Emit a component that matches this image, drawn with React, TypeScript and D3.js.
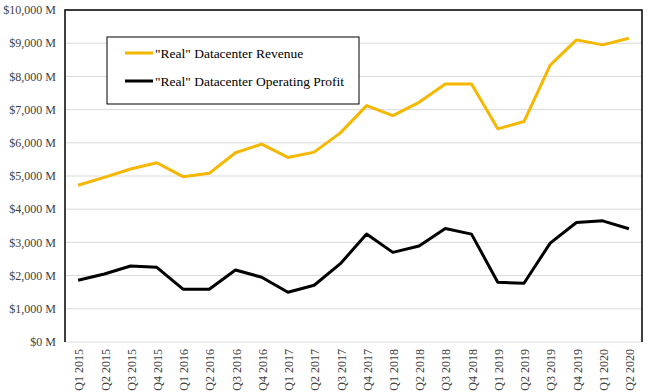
import React from 'react';
import * as d3 from 'd3';

const quarters = [
    'Q1 2015', 'Q2 2015', 'Q3 2015', 'Q4 2015',
    'Q1 2016', 'Q2 2016', 'Q3 2016', 'Q4 2016',
    'Q1 2017', 'Q2 2017', 'Q3 2017', 'Q4 2017',
    'Q1 2018', 'Q2 2018', 'Q3 2018', 'Q4 2018',
    'Q1 2019', 'Q2 2019', 'Q3 2019', 'Q4 2019',
    'Q1 2020', 'Q2 2020',
];

// $ millions
const revenue = [
    4720, 4960, 5210, 5400,
    4980, 5080, 5700, 5960,
    5560, 5720, 6300, 7120,
    6820, 7220, 7770, 7770,
    6420, 6640, 8340, 9100,
    8950, 9150,
];

const operatingProfit = [
    1860, 2050, 2290, 2250,
    1590, 1590, 2170, 1950,
    1500, 1710, 2360, 3250,
    2700, 2890, 3420, 3250,
    1800, 1770, 2980, 3600,
    3650, 3410,
];

const yTicks = d3.range(0, 10001, 1000);

const seriesNames = ['"Real" Datacenter Revenue', '"Real" Datacenter Operating Profit'];
const seriesColors = ['#F5B700', '#000000'];

const width = 651;
const height = 392;
const margin = { top: 10, right: 9, bottom: 50, left: 65 };
const font = '"Liberation Serif", "DejaVu Serif", serif';

const App = () => {
    const x = d3
        .scaleBand<string>()
        .domain(quarters)
        .range([margin.left, width - margin.right]);

    const y = d3
        .scaleLinear()
        .domain([0, 10000])
        .range([height - margin.bottom, margin.top]);

    const line = d3
        .line<number>()
        .x((_, i) => x(quarters[i])! + x.bandwidth() / 2)
        .y((d) => y(d));

    const fmt = (v: number) => '$' + d3.format(',')(v) + ' M';
    const series = [revenue, operatingProfit];

    return (
        <div style={{ position: 'absolute', left: 0, top: 0 }}>
            <svg width={width} height={height} style={{ display: 'block', background: '#fff' }}>
                {/* gridlines */}
                {yTicks.map((t) => (
                    <line
                        key={t}
                        x1={margin.left}
                        x2={width - margin.right}
                        y1={y(t)}
                        y2={y(t)}
                        stroke="#d9d9d9"
                        strokeWidth={1}
                    />
                ))}
                {/* frame: left, top, right */}
                <path
                    d={`M${margin.left},${y(0)}V${margin.top}H${width - margin.right}V${y(0)}`}
                    fill="none"
                    stroke="#000"
                    strokeWidth={1.5}
                />
                {/* y labels */}
                {yTicks.map((t) => (
                    <text
                        key={t}
                        x={margin.left - 9}
                        y={y(t)}
                        dy="0.35em"
                        textAnchor="end"
                        fontFamily={font}
                        fontSize={12}
                        fill="#404040"
                    >
                        {fmt(t)}
                    </text>
                ))}
                {/* x labels */}
                {quarters.map((q) => (
                    <text
                        key={q}
                        transform={`translate(${x(q)! + x.bandwidth() / 2 + 1},${y(0) + 7}) rotate(-90)`}
                        dy="0.35em"
                        textAnchor="end"
                        fontFamily={font}
                        fontSize={12}
                        fill="#404040"
                    >
                        {q}
                    </text>
                ))}
                {/* lines */}
                {series.map((s, i) => (
                    <path
                        key={i}
                        d={line(s)!}
                        fill="none"
                        stroke={seriesColors[i]}
                        strokeWidth={3}
                        strokeLinejoin="round"
                    />
                ))}
                {/* legend */}
                <rect x={107} y={37} width={252} height={67} fill="#fff" stroke="#000" strokeWidth={1} />
                {seriesNames.map((n, i) => (
                    <g key={n} transform={`translate(125,${53 + i * 28})`}>
                        <line x1={0} x2={28} y1={0} y2={0} stroke={seriesColors[i]} strokeWidth={3} />
                        <text x={30} y={0} dy="0.35em" fontFamily={font} fontSize={13.5} fill="#000">
                            {n}
                        </text>
                    </g>
                ))}
            </svg>
        </div>
    );
};

export default App;
